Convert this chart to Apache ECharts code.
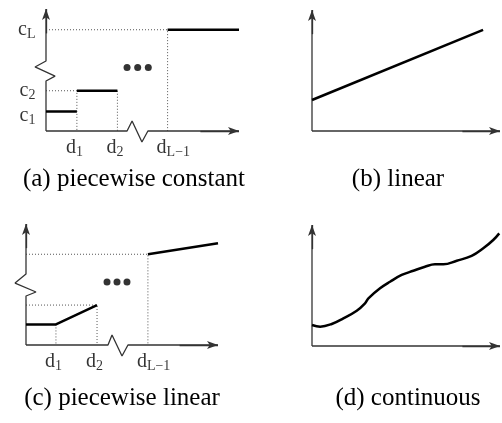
<!DOCTYPE html>
<html>
<head>
<meta charset="utf-8">
<title>function types</title>
<script src="https://cdn.jsdelivr.net/npm/echarts@6.0.0/dist/echarts.min.js"></script>
<style>
html, body { margin: 0; padding: 0; background: #fff; }
#chart { width: 502px; height: 423px; }
</style>
</head>
<body>
<div id="chart"></div>
<script>
// every panel uses a 0..100 x 0..100 value space (a and c reach -10 for the axis breaks)

// (a) piecewise constant
var aCuts = [16, 37, 63];              // d1, d2, d_{L-1}
var aLevels = [16, 33, 83];            // c1, c2, c_L
var aCutLabels = ['d{s|1}', 'd{s|2}', 'd{s|L−1}'];
var aLevelLabels = ['c{s|1}', 'c{s|2}', 'c{s|L}'];
var aSteps = [
  [[0, 16], [16, 16]],
  [[16, 33], [37, 33]],
  [[63, 83], [100, 83]]
];

// (b) linear
var bLine = [[0, 25.6], [91, 83.5]];

// (c) piecewise linear
var cCuts = [15.6, 37, 63.5];
var cCutLabels = ['d{s|1}', 'd{s|2}', 'd{s|L−1}'];
var cPieces = [
  [[0, 17], [15.6, 17], [37, 33]],
  [[63.5, 75], [100, 84]]
];

// (d) continuous
var dCurve = [
  [0, 17.4], [4.4, 16], [10.5, 18.2], [16.7, 22.9], [23.8, 29.2], [28.2, 35.3],
  [30, 39.4], [36.2, 47.7], [41.5, 53.1], [47.7, 58.7], [53.9, 62.2], [60.1, 65.5],
  [65.4, 67.5], [69.9, 67.5], [77, 70.5], [84.9, 74.4], [91.1, 80.7], [96.4, 87.6],
  [99.6, 93.1]
];

// axis breaks (zigzags) and the "..." marks
var aZigY = [[0, 41], [4.7, 45], [-5.7, 52.5], [0, 57.4]];
var aZigX = [[42, 0], [44.6, 8.2], [49.7, -9], [52.8, 0]];
var cZigY = [[0, 40.5], [5.2, 43.8], [-5.7, 51.2], [0, 58.7]];
var cZigX = [[42.7, 0], [44.8, 8.3], [50, -9.1], [53.1, 0]];
var aDots = [[42, 52], [47.5, 52], [53, 52]];
var cDots = [[42.2, 52], [47.4, 52], [52.6, 52]];

var captions = ['(a) piecewise constant', '(b) linear', '(c) piecewise linear', '(d) continuous'];

var serif = 'Liberation Serif';
// a and c span -10..100 on both axes
var grids = [
  { left: 26.7, top: 9, width: 212.3, height: 134.2 },
  { left: 312, top: 10, width: 188, height: 121 },
  { left: 6.8, top: 224, width: 211.2, height: 133.1 },
  { left: 312, top: 225, width: 188, height: 121 }
];
var axisMin = [-10, 0, -10, 0];
var captionPos = [[134, 167], [398, 167], [122, 386], [408, 386]];

var series = [];

function solid(i, data, smooth) {
  series.push({
    type: 'line', xAxisIndex: i, yAxisIndex: i, data: data,
    symbol: 'none', smooth: smooth || false, clip: false, silent: true, z: 5,
    lineStyle: { color: '#000', width: 2.5 }
  });
}

function dotted(i, data) {
  series.push({
    type: 'line', xAxisIndex: i, yAxisIndex: i, data: data,
    symbol: 'none', clip: false, silent: true, z: 2,
    lineStyle: { color: '#555', width: 1, type: [1, 2] }
  });
}

function axes(i, zigX, zigY) {
  var style = { color: '#333', width: 1.3 };
  var arrow = {
    silent: true, symbol: ['none', 'arrow'], symbolSize: [6, 11],
    label: { show: false }, lineStyle: { color: '#333', width: 1.3, type: 'solid' }
  };
  series.push({
    type: 'line', xAxisIndex: i, yAxisIndex: i,
    data: [[0, 0]].concat(zigY || []).concat([[0, 100]]),
    symbol: 'none', clip: false, silent: true, z: 3, lineStyle: style,
    markLine: Object.assign({ data: [[{ coord: [0, 80] }, { coord: [0, 100] }]] }, arrow)
  });
  series.push({
    type: 'line', xAxisIndex: i, yAxisIndex: i,
    data: [[0, 0]].concat(zigX || []).concat([[100, 0]]),
    symbol: 'none', clip: false, silent: true, z: 3, lineStyle: style,
    markLine: Object.assign({ data: [[{ coord: [80, 0] }, { coord: [100, 0] }]] }, arrow)
  });
}

function dots(i, data) {
  series.push({
    type: 'scatter', xAxisIndex: i, yAxisIndex: i, data: data,
    symbolSize: 7, silent: true, z: 5, itemStyle: { color: '#000' }
  });
}

var labelText = {
  fontFamily: serif, fontSize: 20, color: '#000',
  rich: { s: { fontFamily: serif, fontSize: 14, color: '#000', padding: [10, 0, 0, 0] } }
};

function cutLabels(i, cuts, names) {
  series.push({
    type: 'scatter', xAxisIndex: i, yAxisIndex: i, silent: true,
    symbolSize: 1, itemStyle: { color: 'rgba(0,0,0,0)' },
    data: cuts.map(function (x, k) { return { value: [x, 0], name: names[k] }; }),
    label: Object.assign({ show: true, formatter: '{b}', position: 'bottom', distance: 4,
      align: 'left', offset: [-11, 0] }, labelText)
  });
}

function levelLabels(i, levels, names) {
  series.push({
    type: 'scatter', xAxisIndex: i, yAxisIndex: i, silent: true,
    symbolSize: 1, itemStyle: { color: 'rgba(0,0,0,0)' },
    data: levels.map(function (y, k) {
      // the lowest label sits a little under its level, as in the original
      return { value: [0, y], name: names[k], label: { offset: [0, k === 0 ? 4 : 0] } };
    }),
    label: Object.assign({ show: true, formatter: '{b}', position: 'left', distance: 10 }, labelText)
  });
}

// (a)
axes(0, aZigX, aZigY);
dotted(0, [[0, aLevels[1]], [aCuts[0], aLevels[1]], [aCuts[0], 0]]);
dotted(0, [[aCuts[1], aLevels[1]], [aCuts[1], 0]]);
dotted(0, [[0, aLevels[2]], [aCuts[2], aLevels[2]], [aCuts[2], 0]]);
aSteps.forEach(function (s) { solid(0, s); });
dots(0, aDots);
cutLabels(0, aCuts, aCutLabels);
levelLabels(0, aLevels, aLevelLabels);

// (b)
axes(1);
solid(1, bLine);

// (c)
axes(2, cZigX, cZigY);
dotted(2, [[cCuts[0], cPieces[0][0][1]], [cCuts[0], 0]]);
dotted(2, [[0, cPieces[0][2][1]], [cCuts[1], cPieces[0][2][1]], [cCuts[1], 0]]);
dotted(2, [[0, cPieces[1][0][1]], [cCuts[2], cPieces[1][0][1]], [cCuts[2], 0]]);
cPieces.forEach(function (p) { solid(2, p); });
dots(2, cDots);
cutLabels(2, cCuts, cCutLabels);

// (d)
axes(3);
solid(3, dCurve, 0.4);

var chart = echarts.init(document.getElementById('chart'), null, { renderer: 'canvas' });
chart.setOption({
  animation: false,
  backgroundColor: '#fff',
  title: captions.map(function (t, k) {
    return {
      text: t, left: captionPos[k][0], top: captionPos[k][1], textAlign: 'center', padding: 0,
      textStyle: { fontFamily: serif, fontSize: 25, fontWeight: 'normal', color: '#000' }
    };
  }),
  grid: grids,
  xAxis: grids.map(function (g, k) {
    return { type: 'value', gridIndex: k, min: axisMin[k], max: 100, show: false };
  }),
  yAxis: grids.map(function (g, k) {
    return { type: 'value', gridIndex: k, min: axisMin[k], max: 100, show: false };
  }),
  series: series
});
</script>
</body>
</html>
